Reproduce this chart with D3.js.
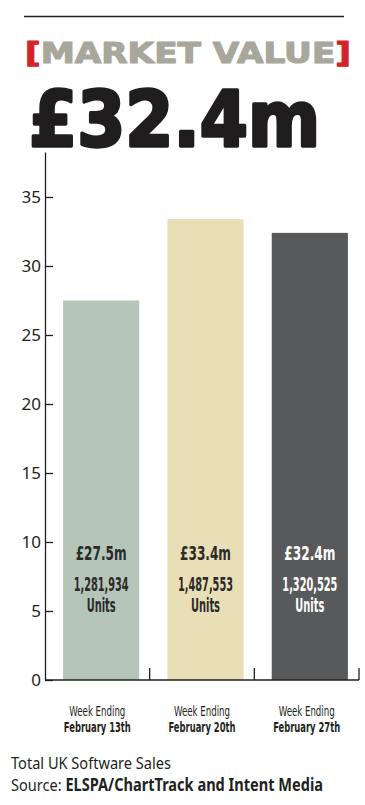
<!DOCTYPE html>
<html>
<head>
<meta charset="utf-8">
<script src="https://cdn.jsdelivr.net/npm/d3@7"></script>
<style>
  html, body { margin: 0; padding: 0; background: #fff; }
  svg { display: block; }
  .cond { font-family: "DejaVu Sans Condensed", "DejaVu Sans", sans-serif; }
</style>
</head>
<body>
<svg width="365" height="805"></svg>
<script>
// chart data
const weeks = ['February 13th', 'February 20th', 'February 27th'];
const marketValue = [27.5, 33.4, 32.4];            // £m
const valueLabels = ['£27.5m', '£33.4m', '£32.4m'];
const unitsSold = [1281934, 1487553, 1320525];
const yTickValues = [0, 5, 10, 15, 20, 25, 30, 35];
const barColors = ['#b5c5b8', '#e9dfb6', '#58595b'];
const labelColors = ['#2b2a29', '#2b2a29', '#ffffff'];

const svg = d3.select('svg');

// header rule
svg.append('line')
    .attr('x1', 24).attr('x2', 344).attr('y1', 16.5).attr('y2', 16.5)
    .attr('stroke', '#231f20').attr('stroke-width', 1.3);

// [MARKET VALUE]
const title = svg.append('text')
    .attr('x', 25).attr('y', 63)
    .attr('textLength', 326).attr('lengthAdjust', 'spacingAndGlyphs')
    .style('font-family', '"DejaVu Sans", sans-serif')
    .style('font-weight', 'bold')
    .style('font-size', '29px')
    .attr('stroke-width', 1.2).attr('stroke-linejoin', 'round');
title.append('tspan').attr('fill', '#d3232b').attr('stroke', '#d3232b').text('[');
title.append('tspan').attr('fill', '#a8a79c').attr('stroke', '#a8a79c').text('MARKET VALUE');
title.append('tspan').attr('fill', '#d3232b').attr('stroke', '#d3232b').text(']');

// headline figure
svg.append('text')
    .attr('x', 29).attr('y', 146)
    .attr('textLength', 291).attr('lengthAdjust', 'spacingAndGlyphs')
    .style('font-family', '"DejaVu Sans", sans-serif')
    .style('font-weight', 'bold')
    .style('font-size', '76px')
    .attr('fill', '#1f1d1e')
    .attr('stroke', '#1f1d1e').attr('stroke-width', 3.5).attr('stroke-linejoin', 'round')
    .text(valueLabels[valueLabels.length - 1]);

// scales
const x0 = 45, x1 = 359, yBase = 680;
const y = d3.scaleLinear().domain([0, 38.26]).range([yBase, 152]);
const xCat = d3.scaleBand().domain(weeks).range([x0, x1]).padding(0);
const xBar = d3.scaleBand().domain(weeks).range([49, 362]).paddingInner(0.27).paddingOuter(0.135);

// y axis
const yAxis = d3.axisLeft(y)
    .tickValues(yTickValues)
    .tickSize(-8)
    .tickSizeOuter(0)
    .tickPadding(4);

const gy = svg.append('g')
    .attr('transform', `translate(${x0},0)`)
    .call(yAxis);
gy.select('.domain').attr('stroke', '#231f20').attr('stroke-width', 1.3);
gy.selectAll('.tick line').attr('stroke', '#231f20').attr('stroke-width', 1.3);
gy.selectAll('.tick text')
    .attr('fill', '#231f20')
    .style('font-family', '"Noto Sans", "DejaVu Sans", sans-serif')
    .style('font-size', '17px');

// bars
const data = weeks.map((w, i) => ({ week: w, value: marketValue[i], label: valueLabels[i], units: unitsSold[i], i }));

svg.append('g').selectAll('rect')
    .data(data)
    .enter().append('rect')
    .attr('x', d => xBar(d.week))
    .attr('width', xBar.bandwidth())
    .attr('y', d => y(d.value))
    .attr('height', d => yBase - y(d.value))
    .attr('fill', (d, i) => barColors[i]);

// labels inside the bars
const inBar = svg.append('g').selectAll('g')
    .data(data)
    .enter().append('g')
    .attr('class', 'cond')
    .attr('transform', d => `translate(${xBar(d.week) + xBar.bandwidth() / 2},0)`)
    .attr('fill', (d, i) => labelColors[i])
    .attr('text-anchor', 'middle')
    .style('font-weight', 'bold');

inBar.append('text').attr('y', 560).style('font-size', '20px')
    .attr('textLength', 51).attr('lengthAdjust', 'spacingAndGlyphs')
    .text(d => d.label);
inBar.append('text').attr('y', 591).style('font-size', '20px')
    .attr('textLength', 55).attr('lengthAdjust', 'spacingAndGlyphs')
    .text(d => d3.format(',')(d.units));
inBar.append('text').attr('y', 612).style('font-size', '20px')
    .attr('textLength', 29).attr('lengthAdjust', 'spacingAndGlyphs')
    .text('Units');

// x axis baseline and separators
svg.append('line')
    .attr('x1', x0).attr('x2', x1).attr('y1', yBase).attr('y2', yBase)
    .attr('stroke', '#231f20').attr('stroke-width', 1.4);

svg.append('g').selectAll('line')
    .data(weeks)
    .enter().append('line')
    .attr('x1', d => xCat(d) + xCat.bandwidth())
    .attr('x2', d => xCat(d) + xCat.bandwidth())
    .attr('y1', yBase).attr('y2', yBase - 12)
    .attr('stroke', '#231f20').attr('stroke-width', 1.3);

// x category labels
const xl = svg.append('g').selectAll('g')
    .data(weeks)
    .enter().append('g')
    .attr('class', 'cond')
    .attr('transform', d => `translate(${xCat(d) + xCat.bandwidth() / 2},0)`)
    .attr('text-anchor', 'middle')
    .attr('fill', '#231f20');

xl.append('text').attr('y', 716).style('font-size', '14px')
    .attr('textLength', 56).attr('lengthAdjust', 'spacingAndGlyphs')
    .text('Week Ending');
xl.append('text').attr('y', 732).style('font-size', '14px').style('font-weight', 'bold')
    .attr('textLength', 67).attr('lengthAdjust', 'spacingAndGlyphs')
    .text(d => d);

// footer
svg.append('text')
    .attr('x', 11).attr('y', 769)
    .attr('fill', '#231f20')
    .attr('textLength', 160).attr('lengthAdjust', 'spacingAndGlyphs')
    .style('font-family', '"Noto Sans", "DejaVu Sans", sans-serif')
    .style('font-size', '17px')
    .text('Total UK Software Sales');

const src = svg.append('text')
    .attr('x', 11).attr('y', 791)
    .attr('fill', '#231f20')
    .attr('textLength', 312).attr('lengthAdjust', 'spacingAndGlyphs')
    .style('font-family', '"Noto Sans", "DejaVu Sans", sans-serif')
    .style('font-size', '17px');
src.append('tspan').text('Source: ');
src.append('tspan').style('font-weight', 'bold').text('ELSPA/ChartTrack and Intent Media');
</script>
</body>
</html>
